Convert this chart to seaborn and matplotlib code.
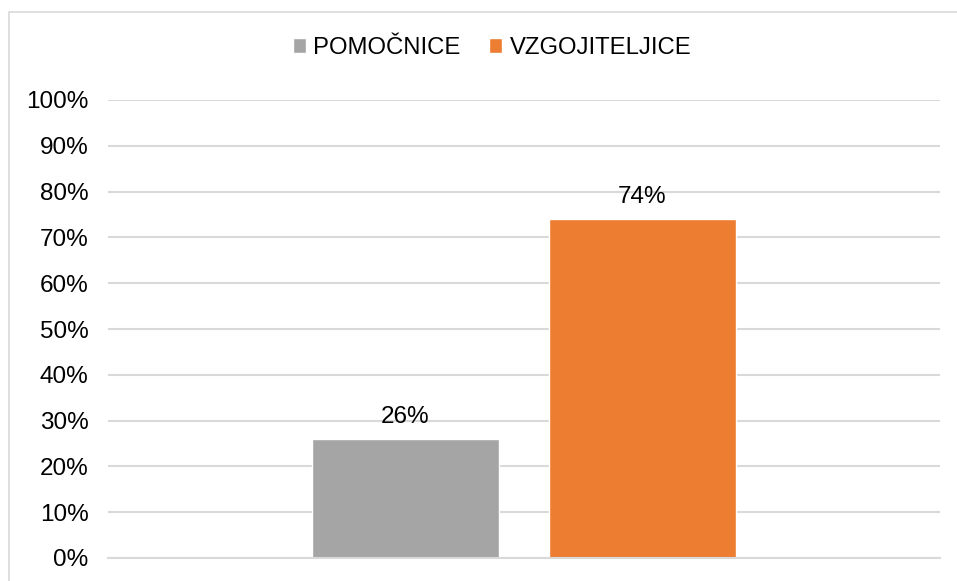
import pandas as pd
import matplotlib
matplotlib.use("Agg")
import matplotlib.pyplot as plt
import matplotlib.patches as mpatches
from matplotlib.ticker import PercentFormatter
import seaborn as sns

# data
groups = ["POMOČNICE", "VZGOJITELJICE"]
shares = [0.26, 0.74]
colors = ["#A5A5A5", "#ED7D31"]

df = pd.DataFrame({"cat": [""] * len(groups), "group": groups, "share": shares})

sns.set_theme(style="white")
plt.rcParams["font.family"] = ["Liberation Sans", "DejaVu Sans"]
plt.rcParams["text.color"] = "#000000"

fig = plt.figure(figsize=(9.57, 5.81), dpi=100)
ax = fig.add_axes([108 / 957, 1 - 558 / 581, (940 - 108) / 957, (558 - 100) / 581])

sns.barplot(data=df, x="cat", y="share", hue="group", palette=colors,
            width=0.57, gap=0.21, saturation=1, ax=ax, legend=True)

ax.set_ylim(0, 1)
ax.set_xlim(-0.5, 0.5)
ax.yaxis.set_major_locator(plt.MultipleLocator(0.1))
ax.yaxis.set_major_formatter(PercentFormatter(1.0, decimals=0))
ax.grid(axis="y", color="#D9D9D9", linewidth=1.5)
ax.set_axisbelow(True)
for s in ["top", "right", "left"]:
    ax.spines[s].set_visible(False)
ax.spines["bottom"].set_color("#D9D9D9")
ax.spines["bottom"].set_linewidth(1.5)
ax.tick_params(axis="y", length=0, pad=14, labelsize=17.5, labelcolor="#000000")
ax.tick_params(axis="x", length=0, labelbottom=False)
ax.set_xlabel("")
ax.set_ylabel("")

for cont in ax.containers:
    ax.bar_label(cont, labels=[f"{v * 100:.0f}%" for v in cont.datavalues],
                 padding=8, fontsize=17.5, color="#000000")

handles, labels = ax.get_legend_handles_labels()
leg = ax.legend(handles, labels, loc="center", bbox_to_anchor=(492 / 957, 1 - 48 / 581),
                bbox_transform=fig.transFigure, ncol=2, frameon=False, fontsize=17.2,
                handlelength=0.55, handleheight=0.55, handletextpad=0.3, columnspacing=1.2)
for t in leg.get_texts():
    t.set_color("#000000")

# chart area border (right and bottom edges fall outside the image)
fig.patches.append(mpatches.Rectangle((8.5 / 957, -0.1), 1.2, 1 - 12.5 / 581 + 0.1,
                                      transform=fig.transFigure, fill=False,
                                      edgecolor="#D9D9D9", linewidth=1.2))

fig.savefig("out.png", dpi=100)
